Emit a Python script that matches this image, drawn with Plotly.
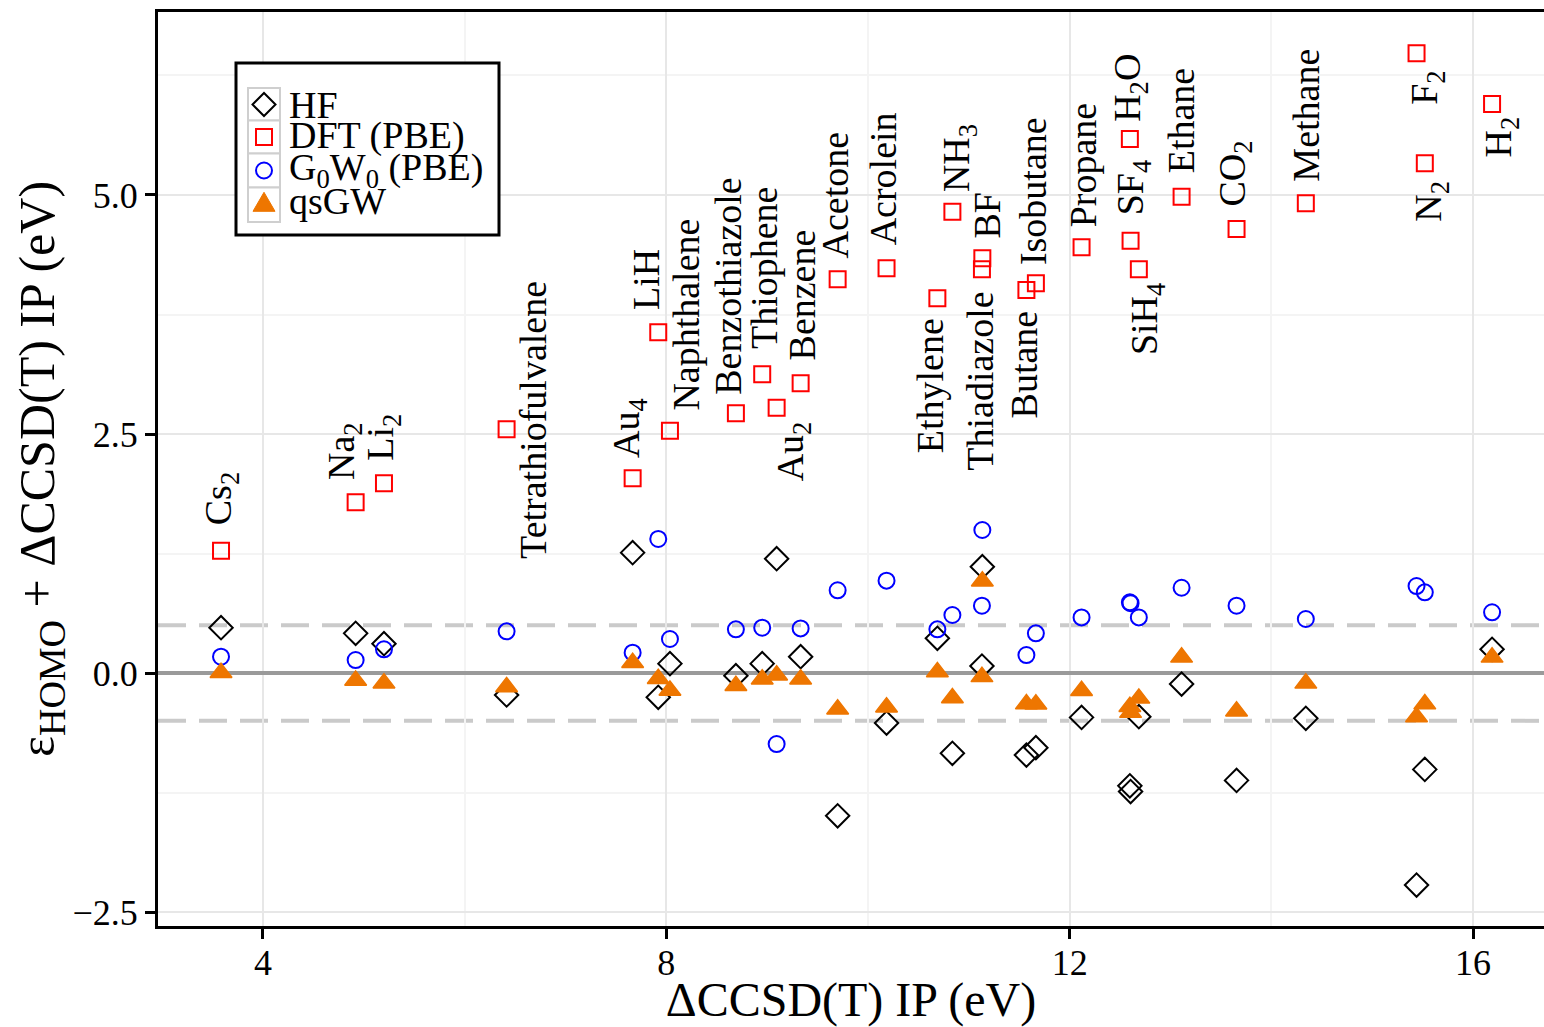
import plotly.graph_objects as go

# Molecules, ordered by reference ionisation potential
molecules = ["Cs<sub>2</sub>", "Na<sub>2</sub>", "Li<sub>2</sub>", "Tetrathiofulvalene", "Au<sub>4</sub>",
             "LiH", "Naphthalene", "Benzothiazole", "Thiophene", "Au<sub>2</sub>", "Benzene",
             "Acetone", "Acrolein", "Ethylene", "NH<sub>3</sub>", "BF", "Thiadiazole", "Butane",
             "Isobutane", "Propane", "H<sub>2</sub>O", "SF<sub>4</sub>", "SiH<sub>4</sub>", "Ethane",
             "CO<sub>2</sub>", "Methane", "F<sub>2</sub>", "N<sub>2</sub>", "H<sub>2</sub>"]

# ΔCCSD(T) ionisation potential (eV)
ip_ccsdt = [3.584, 4.919, 5.200, 6.416, 7.666, 7.920, 8.036, 8.690, 8.951, 9.094, 9.332,
            9.699, 10.184, 10.688, 10.837, 11.134, 11.130, 11.571, 11.665, 12.118, 12.597,
            12.604, 12.686, 13.110, 13.655, 14.342, 15.440, 15.522, 16.189]

# ε_HOMO + ΔCCSD(T) IP (eV) for each method
hf = [0.474, 0.415, 0.307, -0.230, 1.259, -0.254, 0.098, -0.028, 0.098, 1.196, 0.171,
      -1.493, -0.523, 0.363, -0.840, 1.112, 0.073, -0.858, -0.781, -0.464, -1.180,
      -1.240, -0.457, -0.115, -1.123, -0.474, -2.218, -1.008, 0.248]
dft_pbe = [1.279, 1.785, 1.984, 2.549, 2.036, 3.564, 2.535, 2.716, 3.124, 2.775, 3.030,
           4.118, 4.233, 3.919, 4.825, 4.338, 4.223, 4.006, 4.077, 4.453, 5.586,
           4.522, 4.223, 4.982, 4.644, 4.913, 6.482, 5.331, 5.952]
g0w0_pbe = [0.171, 0.136, 0.248, 0.436, 0.213, 1.402, 0.356, 0.457, 0.474, -0.743, 0.467,
            0.865, 0.966, 0.457, 0.607, 1.496, 0.704, 0.188, 0.415, 0.582, 0.740,
            0.730, 0.582, 0.892, 0.704, 0.565, 0.910, 0.844, 0.635]
qsgw = [0.003, -0.077, -0.106, -0.145, 0.108, -0.059, -0.182, -0.132, -0.064, -0.024, -0.066,
        -0.378, -0.357, 0.012, -0.262, 0.960, -0.040, -0.325, -0.327, -0.185, -0.352,
        -0.414, -0.265, 0.164, -0.399, -0.108, -0.459, -0.325, 0.164]

# Placement of each molecule name next to its DFT point: (side, x shift px, gap px)
label_place = [("above", 0, 23), ("above", -11, 20), ("above", -1, 21), ("middle", 27, 9),
               ("above", -3, 18), ("above", -12, 20), ("above", 16, 18), ("above", -8, 17),
               ("above", 2, 23), ("below", 16, 12), ("above", 1, 21), ("above", -3, 19),
               ("above", -4, 21), ("below", -8, 18), ("above", 6, 18), ("above", 5, 18),
               ("below", -2, 20), ("below", -2, 18), ("above", -3, 16), ("above", 1, 18),
               ("above", 0, 15), ("above", 2, 23), ("below", 8, 12), ("above", -1, 21),
               ("above", -2, 20), ("above", 0, 20), ("below", 11, 16), ("below", 6, 15),
               ("below", 9, 11)]

FONT = "Liberation Serif"
W, H = 1544, 1027
ML, MR, MT, MB = 158, 0, 12, 101
ORANGE = "#EE7600"

fig = go.Figure()

fig.add_trace(go.Scatter(x=ip_ccsdt, y=hf, mode="markers", name="HF",
                         marker=dict(symbol="diamond-open", size=18, color="black",
                                     line=dict(width=2, color="black"))))
fig.add_trace(go.Scatter(x=ip_ccsdt, y=dft_pbe, mode="markers", name="DFT (PBE)",
                         marker=dict(symbol="square-open", size=16, color="#FF0000",
                                     line=dict(width=2, color="#FF0000"))))
fig.add_trace(go.Scatter(x=ip_ccsdt, y=g0w0_pbe, mode="markers", name="G0W0 (PBE)",
                         marker=dict(symbol="circle-open", size=16, color="#0000FF",
                                     line=dict(width=2, color="#0000FF"))))
fig.add_trace(go.Scatter(x=ip_ccsdt, y=qsgw, mode="markers", name="qsGW",
                         marker=dict(symbol="triangle-up", size=19, color=ORANGE,
                                     line=dict(width=1.5, color=ORANGE))))

# Reference lines at ±0.5 eV (the zero line comes from the y axis)
for yv in (0.5, -0.5):
    fig.add_shape(type="line", xref="paper", x0=0, x1=1, yref="y", y0=yv, y1=yv,
                  line=dict(color="#cacaca", width=4, dash="28px,13px"), layer="between")

# Molecule names
for name, xv, yv, (side, dx, gap) in zip(molecules, ip_ccsdt, dft_pbe, label_place):
    yanchor = {"above": "bottom", "below": "top", "middle": "middle"}[side]
    yshift = -gap if side == "below" else gap
    fig.add_annotation(x=xv, y=yv, xref="x", yref="y", text=name, showarrow=False,
                       textangle=-90, xanchor="center", yanchor=yanchor,
                       xshift=dx, yshift=yshift,
                       font=dict(family=FONT, size=38, color="black"))


# Hand-built legend box in the upper left of the panel
def px(xp):
    return (xp - ML) / (W - ML - MR)


def py(yp):
    return (H - MB - yp) / (H - MT - MB)


fig.add_shape(type="rect", xref="paper", yref="paper", x0=px(236), x1=px(499),
              y0=py(63), y1=py(235), line=dict(color="black", width=3),
              fillcolor="white", layer="above")

key_x = 264
rows = [104.5, 137, 170.5, 205]
row_edges = [88, 120.5, 153.5, 187.5, 222]
for i in range(4):
    fig.add_shape(type="rect", xref="paper", yref="paper", x0=px(248), x1=px(280),
                  y0=py(row_edges[i + 1]), y1=py(row_edges[i]),
                  line=dict(color="#cfcfcf", width=2), fillcolor="white", layer="above")

legend_texts = ["HF", "DFT (PBE)", "G<sub>0</sub>W<sub>0</sub> (PBE)", "qsGW"]
legend_shapes = [
    dict(type="path", path="M 11.5 0 L 0 11.5 L -11.5 0 L 0 -11.5 Z",
         line=dict(color="black", width=2)),
    dict(type="rect", x0=-8, x1=8, y0=-8, y1=8, line=dict(color="#FF0000", width=2)),
    dict(type="circle", x0=-8, x1=8, y0=-8, y1=8, line=dict(color="#0000FF", width=2)),
    dict(type="path", path="M -11 -6.3 L 11 -6.3 L 0 12.7 Z",
         line=dict(color=ORANGE, width=1), fillcolor=ORANGE),
]
for yc, spec in zip(rows, legend_shapes):
    fig.add_shape(xref="paper", yref="paper", xsizemode="pixel", ysizemode="pixel",
                  xanchor=px(key_x), yanchor=py(yc), layer="above", **spec)
text_rows = [104.5, 136, 170, 201]
for yc, txt in zip(text_rows, legend_texts):
    fig.add_annotation(x=px(287), y=py(yc), xref="paper", yref="paper", text=txt,
                       showarrow=False, xanchor="left", yanchor="middle",
                       font=dict(family=FONT, size=38, color="black"))

axis_common = dict(showline=True, linewidth=3, linecolor="black", ticks="outside",
                   ticklen=10, tickwidth=3, tickcolor="black", showgrid=True,
                   gridcolor="#e7e7e7", gridwidth=1.5,
                   tickfont=dict(family=FONT, size=36, color="black"))

fig.update_layout(
    width=W, height=H, margin=dict(l=ML, r=MR, t=MT, b=MB, pad=0),
    paper_bgcolor="white", plot_bgcolor="white", showlegend=False,
    font=dict(family=FONT, color="black"),
    xaxis=dict(range=[2.959, 16.704], tickvals=[4, 8, 12, 16], mirror=True,
               zeroline=False, ticklabelstandoff=-7,
               minor=dict(tickvals=[2, 6, 10, 14], showgrid=True, gridcolor="#f4f4f4",
                          gridwidth=1.5, ticks=""),
               title=dict(text="ΔCCSD(T) IP (eV)", font=dict(family=FONT, size=48),
                          standoff=4),
               **axis_common),
    yaxis=dict(range=[-2.646, 6.914], tickvals=[-2.5, 0, 2.5, 5.0], tickformat=".1f",
               zeroline=True, zerolinecolor="#9a9a9a", zerolinewidth=3.5,
               minor=dict(tickvals=[-1.25, 1.25, 3.75, 6.25], showgrid=True,
                          gridcolor="#f4f4f4", gridwidth=1.5, ticks=""),
               title=dict(text="ε<sub><span style='font-size:38px'>HOMO</span></sub>"
                               " + ΔCCSD(T) IP (eV)",
                          font=dict(family=FONT, size=50), standoff=2),
               **axis_common),
)

fig.write_html("out.html")
